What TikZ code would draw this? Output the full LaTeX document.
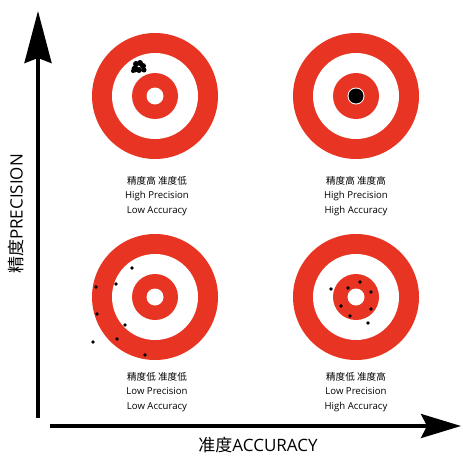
\documentclass[tikz,border=0pt]{standalone}
\usepackage{fontspec}
\setmainfont{Open Sans}
\newfontfamily\cjk{Noto Sans CJK SC}
\usetikzlibrary{arrows.meta}
\definecolor{targetred}{RGB}{232,52,35}

\begin{document}
\begin{tikzpicture}[x=1pt, y=-1pt,
    ring/.style={fill=targetred},
    hole/.style={fill=white},
    shot/.style={fill=black},
    axis/.style={line width=3.5pt},
    note/.style={align=center, font=\fontsize{9.6}{14.5}\selectfont},
    axislabel/.style={font=\fontsize{17}{20}\selectfont}]
    \useasboundingbox (0, 0) rectangle (463, 455);

    \coordinate (tl) at (155, 96);
    \coordinate (tr) at (356, 96);
    \coordinate (bl) at (155, 297);
    \coordinate (br) at (356, 297);

    \foreach \t in {tl, tr, bl, br} {
        \fill [ring] (\t) circle (63);
        \fill [hole] (\t) circle (43);
        \fill [ring] (\t) circle (23);
        \fill [hole] (\t) circle (8.5);
    }

    % tight group off centre
    \fill [shot] (136, 64) circle (3);
    \fill [shot] (140, 63) circle (3);
    \fill [shot] (143, 66) circle (3);
    \fill [shot] (135, 69) circle (3.5);
    \fill [shot] (139, 70) circle (3);
    \fill [shot] (144, 70) circle (2.5);
    \fill [shot] (133, 71) circle (2);

    % tight group in the middle
    \fill [shot] (tr) circle (7.5);

    % scattered
    \foreach \p in {(132, 268), (96, 287), (116, 284), (97, 314), (125, 325),
                    (93, 342), (117, 339), (145, 355)}
        \fill [shot] \p circle (1.8);

    % scattered round the middle
    \foreach \p in {(331, 289), (348, 288), (360, 282), (371, 292), (341, 306),
                    (371, 309), (350, 316), (368, 323)}
        \fill [shot] \p circle (1.8);

    \node [note] (tlnote) at (157, 196) {{\cjk 精度高 准度低}\\High Precision\\Low Accuracy};
    \node [note] (trnote) at (356, 196) {{\cjk 精度高 准度高}\\High Precision\\High Accuracy};
    \node [note] (blnote) at (157, 392) {{\cjk 精度低 准度低}\\Low Precision\\Low Accuracy};
    \node [note] (brnote) at (356, 392) {{\cjk 精度低 准度高}\\Low Precision\\High Accuracy};

    \coordinate (origin) at (38, 418);
    \coordinate (ytip) at (38, 11);
    \coordinate (xstart) at (50, 426);
    \coordinate (xtip) at (461, 426);
    \draw [axis, -{Stealth[length=52pt, width=27pt, inset=5pt]}] (origin) -- (ytip);
    \draw [axis, -{Stealth[length=40pt, width=24pt, inset=6pt]}] (xstart) -- (xtip);

    \node [axislabel, rotate=90] (ylabel) at (16, 214) {{\cjk 精度}PRECISION};
    \node [axislabel] (xlabel) at (258, 445) {{\cjk 准度}ACCURACY};
\end{tikzpicture}
\end{document}
